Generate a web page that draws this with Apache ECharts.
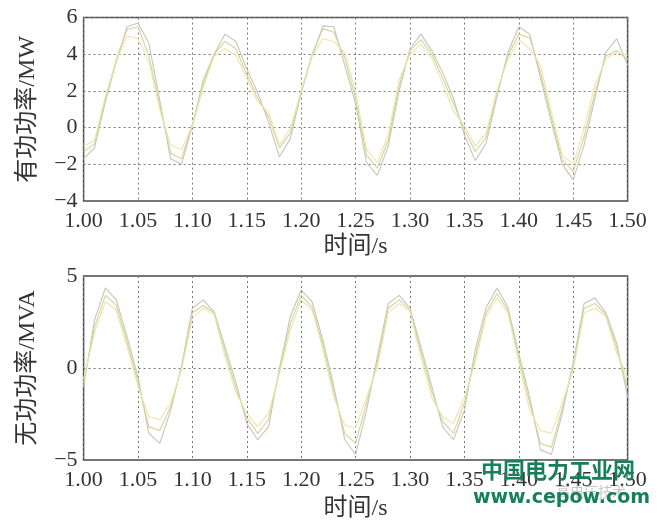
<!DOCTYPE html>
<html><head><meta charset="utf-8">
<script src="https://cdn.jsdelivr.net/npm/echarts@6/dist/echarts.min.js"></script>
<style>html,body{margin:0;padding:0;background:#fff}#c{width:659px;height:527px}</style>
</head><body><div id="c"></div>
<script>
var time = [1.00,1.01,1.02,1.03,1.04,1.05,1.06,1.07,1.08,1.09,1.10,1.11,1.12,1.13,1.14,1.15,1.16,1.17,1.18,1.19,1.20,1.21,1.22,1.23,1.24,1.25,1.26,1.27,1.28,1.29,1.30,1.31,1.32,1.33,1.34,1.35,1.36,1.37,1.38,1.39,1.40,1.41,1.42,1.43,1.44,1.45,1.46,1.47,1.48,1.49,1.50];
var xTicks = ['1.00','1.05','1.10','1.15','1.20','1.25','1.30','1.35','1.40','1.45','1.50'];
var pTicks = [-4,-2,0,2,4,6];
var qTicks = [-5,0,5];
// active power (MW)
var p1 = [-1.7,-1.1,1.4,3.6,5.5,5.7,4.6,1.5,-1.7,-2.0,0.1,2.6,4.0,5.1,4.7,3.2,1.9,0.3,-1.6,-0.6,1.9,3.9,5.55,5.5,3.4,1.3,-1.9,-2.6,-1.0,2.0,4.3,5.1,4.2,3.0,1.6,-0.4,-1.8,-0.85,1.7,4.1,5.5,5.1,2.7,0.3,-2.0,-2.85,-0.95,1.6,4.1,4.85,3.4];
var p2 = [-1.3,-0.9,1.6,3.7,5.35,5.5,3.9,1.2,-1.4,-1.7,0.2,2.4,4.0,4.7,4.3,2.9,1.6,0.6,-1.1,-0.3,2.0,4.0,5.4,5.2,3.8,1.6,-1.5,-2.2,-0.7,2.3,4.2,4.8,4.0,2.7,1.3,-0.1,-1.3,-0.55,1.9,3.9,5.1,4.9,3.0,0.55,-1.75,-2.4,-0.5,1.9,3.9,4.2,3.7];
var p3 = [-1.0,-0.7,1.7,3.6,5.0,4.85,3.6,1.0,-0.95,-1.2,0.1,2.2,3.9,4.3,3.95,2.7,1.4,0.85,-0.95,-0.05,2.0,3.9,4.85,4.7,4.1,1.95,-1.2,-1.9,-0.4,2.6,4.0,4.55,3.8,2.4,0.9,0.1,-1.0,-0.3,2.05,3.7,4.8,4.3,3.4,0.85,-1.5,-2.0,-0.05,2.3,3.75,4.1,3.95];
// reactive power (MVA)
var q1 = [-1.0,2.6,4.35,3.7,1.7,-0.5,-3.55,-4.1,-2.3,0.1,3.25,3.7,3.05,1.15,-0.8,-3.0,-3.9,-3.2,0.0,2.8,4.25,3.6,1.5,-1.0,-3.9,-4.7,-2.3,0.6,3.5,3.95,3.25,1.15,-1.0,-3.2,-3.9,-2.3,1.0,3.3,4.35,3.3,0.8,-1.6,-4.45,-4.7,-2.45,0.3,3.5,3.8,3.0,1.35,-1.6];
var q2 = [-0.8,2.2,3.95,3.4,1.4,-0.75,-3.2,-3.4,-2.1,0.0,3.0,3.4,3.0,0.9,-1.1,-2.7,-3.55,-2.8,-0.15,2.4,3.95,3.3,1.25,-1.3,-3.55,-4.1,-1.9,0.3,3.25,3.7,3.15,0.9,-1.3,-2.9,-3.55,-1.9,0.6,3.0,4.05,3.15,0.55,-1.9,-4.1,-4.3,-2.2,0.1,3.25,3.5,2.9,1.1,-1.1];
var q3 = [-0.6,1.9,3.6,3.15,1.15,-1.0,-2.65,-2.8,-1.9,-0.1,2.7,3.25,2.9,0.6,-1.35,-2.45,-3.2,-2.45,-0.3,2.05,3.7,3.15,1.0,-1.6,-3.1,-3.25,-1.6,0.05,3.0,3.5,3.05,0.6,-1.6,-2.65,-3.0,-1.6,0.3,2.8,3.8,3.0,0.3,-2.3,-3.4,-3.55,-1.9,-0.1,3.0,3.25,2.8,0.8,-0.5];
var colors = ['#c2c7b6', '#d6d29e', '#efe4a8'];

function pairs(v){ return time.map(function(t,i){ return [t, v[i]]; }); }
function fmtY(v){ return v < 0 ? '\u2212' + Math.abs(v) : String(v); }

var serif = '"Liberation Serif","Noto Sans CJK SC",serif';
var nameFont = '"Liberation Serif","Noto Sans CJK SC",serif';
var grid = {show:true, left:83.6, right:31.4, borderColor:'#4a4a4a', borderWidth:1.5, backgroundColor:'#fff'};
var dotted = {show:true, lineStyle:{color:'#777', width:1, type:[2,3]}};

function xAxis(idx, gap){
  return {type:'value', gridIndex:idx, min:1.0, max:1.5, interval:0.05,
    name:'时间/s', nameLocation:'middle', nameGap:gap,
    nameTextStyle:{fontFamily:nameFont, fontSize:24, color:'#333'},
    axisLine:{show:false}, axisTick:{show:false},
    axisLabel:{margin:9, fontFamily:serif, fontSize:22, color:'#333',
      formatter:function(v){ var s=v.toFixed(2); return xTicks.indexOf(s)>=0?s:''; }},
    splitLine:dotted};
}
function yAxis(idx, name, mn, mx, itv){
  return {type:'value', gridIndex:idx, min:mn, max:mx, interval:itv,
    name:name, nameLocation:'middle', nameGap:44,
    nameTextStyle:{fontFamily:nameFont, fontSize:24, color:'#333'},
    axisLine:{show:false}, axisTick:{show:false},
    axisLabel:{margin:6, fontFamily:serif, fontSize:22, color:'#333', formatter:fmtY},
    splitLine:dotted};
}
function line(data, xi, yi, c){
  return {type:'line', xAxisIndex:xi, yAxisIndex:yi, data:pairs(data), symbol:'none',
    lineStyle:{color:c, width:1.1}, z:3, animation:false};
}

var chart = echarts.init(document.getElementById('c'));
chart.setOption({
  animation:false,
  grid:[Object.assign({top:17.6, height:183.4}, grid), Object.assign({top:276, height:184}, grid)],
  xAxis:[xAxis(0,34), xAxis(1,37)],
  yAxis:[yAxis(0,'有功功率/MW',pTicks[0],pTicks[pTicks.length-1],2), yAxis(1,'无功功率/MVA',qTicks[0],qTicks[qTicks.length-1],5)],
  series:[line(p1,0,0,colors[0]), line(p2,0,0,colors[1]), line(p3,0,0,colors[2]),
          line(q1,1,1,colors[0]), line(q2,1,1,colors[1]), line(q3,1,1,colors[2])],
  graphic:[
    {type:'text', left:556, top:485, z:10, style:{text:'高电压技术', fontSize:14, fill:'#c8c8c8', fontFamily:'"Noto Sans CJK SC"'}},
    {type:'text', left:481, top:459, z:11, style:{text:'中国电力工业网', fontSize:22, fontWeight:'bold', fill:'#17805a', fontFamily:'"Noto Sans CJK SC"'}},
    {type:'text', left:473, top:489, z:11, style:{text:'www.cepow.com', fontSize:19, fontWeight:'bold', fill:'#17805a', fontFamily:'"DejaVu Sans"'}}
  ]
});
</script></body></html>
